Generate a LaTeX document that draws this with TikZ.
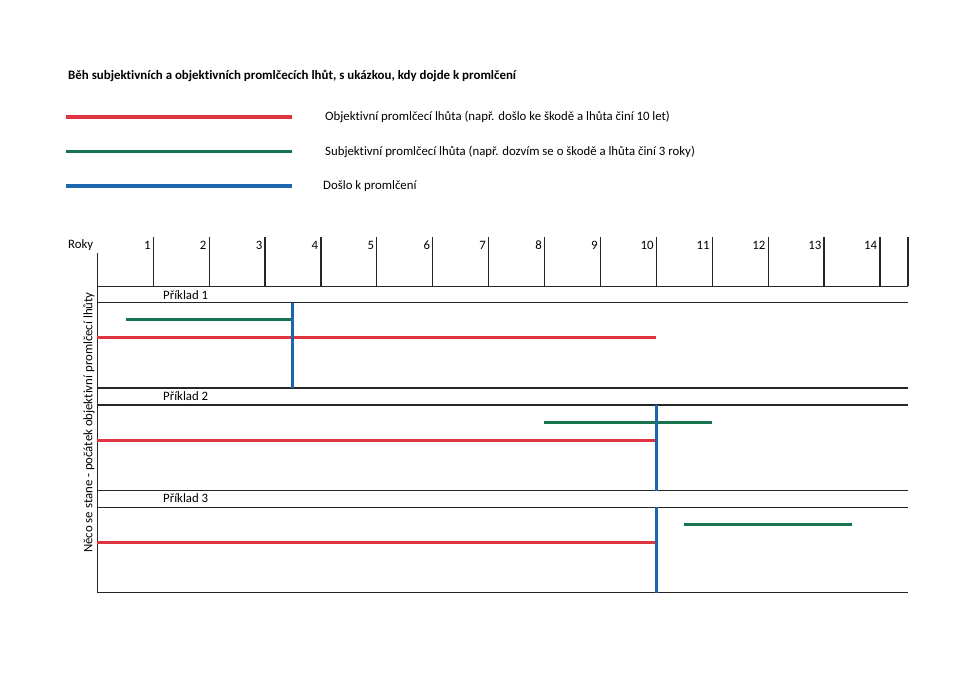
\documentclass[tikz,border=0pt]{standalone}
\usepackage{fontspec}
\setmainfont{Carlito}[Ligatures={NoCommon}]
\definecolor{objred}{HTML}{DE3540}
\definecolor{subgreen}{HTML}{17744F}
\definecolor{doneblue}{HTML}{1C66AE}
\begin{document}
\begin{tikzpicture}[x=1pt,y=-1pt,
  txt/.style={inner sep=0pt,font=\fontsize{12.8}{15}\selectfont},
  axisline/.style={draw=black!85,line width=1.4pt},
  gridline/.style={draw=black!85,line width=1.2pt},
  legline/.style={line width=3.6pt},
  redline/.style={draw=objred,line width=3pt},
  greenline/.style={draw=subgreen,line width=3pt},
  blueline/.style={draw=doneblue,line width=3pt},
  num/.style={txt,anchor=east}]
\useasboundingbox[fill=white] (0,0) rectangle (960,679);
% title
\node[txt,anchor=west,font=\fontsize{12.9}{15}\selectfont\bfseries] (title) at (68,75.5) {Běh subjektivních a objektivních promlčecích lhůt, s ukázkou, kdy dojde k promlčení};
% legend
\coordinate (lr1) at (66,117); \coordinate (lr2) at (292,117);
\coordinate (lg1) at (66,151.5); \coordinate (lg2) at (292,151.5);
\coordinate (lb1) at (66,186); \coordinate (lb2) at (292,186);
\draw[legline,objred] (lr1) -- (lr2);
\draw[legline,subgreen] (lg1) -- (lg2);
\draw[legline,doneblue] (lb1) -- (lb2);
\node[txt,anchor=west] (legred) at (325,116.5) {Objektivní promlčecí lhůta (např. došlo ke škodě a lhůta činí 10 let)};
\node[txt,anchor=west] (leggreen) at (325,151.5) {Subjektivní promlčecí lhůta (např. dozvím se o škodě a lhůta činí 3 roky)};
\node[txt,anchor=west] (legblue) at (323,186) {Došlo k promlčení};
% axis
\node[txt] (roky) at (80.7,245) {Roky};
\foreach \n in {1,...,14} {
  \coordinate (t\n) at ({97.3+55.9*\n},237);
  \coordinate (b\n) at ({97.3+55.9*\n},286.3);
  \draw[gridline] (t\n) -- (b\n);
  \node[num] (n\n) at ({97.3+55.9*\n-2.5},245) {\n};
}
\coordinate (tend) at (908,237); \coordinate (bend) at (908,286.3);
\draw[gridline] (tend) -- (bend);
\coordinate (ax1) at (97.3,253); \coordinate (ax2) at (97.3,593);
% horizontal rows
\foreach \y/\nm in {286.3/h1,302.7/h2,388/h3,405/h4,490.7/h5,507.3/h6,592.7/h7} {
  \coordinate (\nm a) at (97.3,\y); \coordinate (\nm b) at (908,\y);
  \draw[gridline] (\nm a) -- (\nm b);
}
\draw[axisline] (ax1) -- (ax2);
% labels
\node[txt,anchor=west] (p1) at (163,294.8) {Příklad 1};
\node[txt,anchor=west] (p2) at (163,396) {Příklad 2};
\node[txt,anchor=west] (p3) at (163,498.5) {Příklad 3};
\node[txt,rotate=90] (vlabel) at (89,422.5) {Něco se stane - počátek objektivní promlčecí lhůty};
% example 1
\coordinate (e1g1) at (126,319.7); \coordinate (e1g2) at (292.7,319.7);
\coordinate (e1r1) at (97.3,337.8); \coordinate (e1r2) at (656,337.8);
\coordinate (e1b1) at (292.7,302.7); \coordinate (e1b2) at (292.7,388);
\draw[greenline] (e1g1) -- (e1g2);
\draw[redline] (e1r1) -- (e1r2);
\draw[blueline] (e1b1) -- (e1b2);
% example 2
\coordinate (e2g1) at (544.3,422); \coordinate (e2g2) at (712,422);
\coordinate (e2r1) at (97.3,440); \coordinate (e2r2) at (656,440);
\coordinate (e2b1) at (656,405); \coordinate (e2b2) at (656,490.7);
\draw[greenline] (e2g1) -- (e2g2);
\draw[redline] (e2r1) -- (e2r2);
\draw[blueline] (e2b1) -- (e2b2);
% example 3
\coordinate (e3g1) at (684.3,524.3); \coordinate (e3g2) at (852,524.3);
\coordinate (e3r1) at (97.3,542.3); \coordinate (e3r2) at (656,542.3);
\coordinate (e3b1) at (656,507.3); \coordinate (e3b2) at (656,592.7);
\draw[greenline] (e3g1) -- (e3g2);
\draw[redline] (e3r1) -- (e3r2);
\draw[blueline] (e3b1) -- (e3b2);
\end{tikzpicture}
\end{document}
